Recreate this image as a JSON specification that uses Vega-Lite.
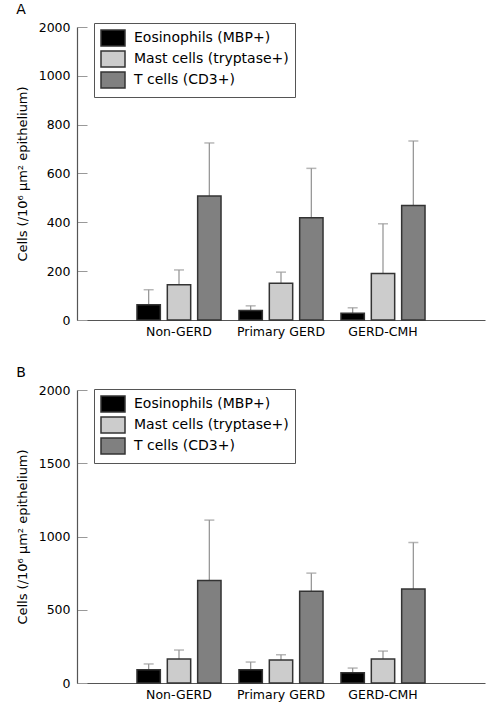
{
  "$schema": "https://vega.github.io/schema/vega-lite/v6.json",
  "padding": {"left": 16, "top": 3, "right": 1, "bottom": 2},
  "spacing": 28,
  "data": {"values": [
    {"panel": "A", "group": "Non-GERD", "cell": "Eosinophils (MBP+)", "value": 62, "upper": 124},
    {"panel": "A", "group": "Non-GERD", "cell": "Mast cells (tryptase+)", "value": 144, "upper": 205},
    {"panel": "A", "group": "Non-GERD", "cell": "T cells (CD3+)", "value": 508, "upper": 725},
    {"panel": "A", "group": "Primary GERD", "cell": "Eosinophils (MBP+)", "value": 39, "upper": 58},
    {"panel": "A", "group": "Primary GERD", "cell": "Mast cells (tryptase+)", "value": 151, "upper": 196},
    {"panel": "A", "group": "Primary GERD", "cell": "T cells (CD3+)", "value": 419, "upper": 621},
    {"panel": "A", "group": "GERD-CMH", "cell": "Eosinophils (MBP+)", "value": 28, "upper": 50},
    {"panel": "A", "group": "GERD-CMH", "cell": "Mast cells (tryptase+)", "value": 190, "upper": 394},
    {"panel": "A", "group": "GERD-CMH", "cell": "T cells (CD3+)", "value": 469, "upper": 733},
    {"panel": "B", "group": "Non-GERD", "cell": "Eosinophils (MBP+)", "value": 91, "upper": 130},
    {"panel": "B", "group": "Non-GERD", "cell": "Mast cells (tryptase+)", "value": 164, "upper": 225},
    {"panel": "B", "group": "Non-GERD", "cell": "T cells (CD3+)", "value": 700, "upper": 1112},
    {"panel": "B", "group": "Primary GERD", "cell": "Eosinophils (MBP+)", "value": 91, "upper": 143},
    {"panel": "B", "group": "Primary GERD", "cell": "Mast cells (tryptase+)", "value": 157, "upper": 193},
    {"panel": "B", "group": "Primary GERD", "cell": "T cells (CD3+)", "value": 627, "upper": 750},
    {"panel": "B", "group": "GERD-CMH", "cell": "Eosinophils (MBP+)", "value": 70, "upper": 102},
    {"panel": "B", "group": "GERD-CMH", "cell": "Mast cells (tryptase+)", "value": 164, "upper": 218},
    {"panel": "B", "group": "GERD-CMH", "cell": "T cells (CD3+)", "value": 641, "upper": 959}
  ]},
  "vconcat": [
    {
      "title": {"text": "A", "anchor": "start", "fontSize": 14, "fontWeight": "normal", "font": "DejaVu Sans", "offset": 4, "color": "#000"},
      "width": 408, "height": 293,
      "transform": [{"filter": "datum.panel == 'A'"}],
      "encoding": {
        "x": {"field": "group", "type": "nominal", "sort": ["Non-GERD", "Primary GERD", "GERD-CMH"],
              "scale": {"paddingInner": 0.176, "paddingOuter": 0.588},
              "axis": {"title": null, "labelAngle": 0, "ticks": false, "labelPadding": 5}},
        "xOffset": {"field": "cell", "type": "nominal", "sort": ["Eosinophils (MBP+)", "Mast cells (tryptase+)", "T cells (CD3+)"],
              "scale": {"paddingInner": 0.23, "paddingOuter": 0}}
      },
      "layer": [
        {"mark": {"type": "rule", "color": "#999", "strokeWidth": 1.3},
         "encoding": {"y": {"field": "value", "type": "quantitative"}, "y2": {"field": "upper"}}},
        {"mark": {"type": "tick", "color": "#999", "size": 10, "thickness": 1.5},
         "encoding": {"y": {"field": "upper", "type": "quantitative"}}},
        {"mark": {"type": "bar", "stroke": "#333", "strokeWidth": 1.5},
         "encoding": {
           "y": {"field": "value", "type": "quantitative",
                 "scale": {"domain": [0, 1000, 2000], "range": [293, 48.8, 0], "nice": false, "zero": false},
                 "axis": {"values": [0, 200, 400, 600, 800, 1000, 2000], "format": "d", "title": "Cells (/10⁶ µm² epithelium)", "tickSize": -10, "labelPadding": 17, "titlePadding": 9}},
           "color": {"field": "cell", "type": "nominal", "sort": ["Eosinophils (MBP+)", "Mast cells (tryptase+)", "T cells (CD3+)"],
                     "scale": {"domain": ["Eosinophils (MBP+)", "Mast cells (tryptase+)", "T cells (CD3+)"], "range": ["#000000", "#cccccc", "#808080"]},
                     "legend": {"orient": "none", "legendX": 17, "legendY": -4, "title": null}}
         }}
      ]
    },
    {
      "title": {"text": "B", "anchor": "start", "fontSize": 14, "fontWeight": "normal", "font": "DejaVu Sans", "offset": 4, "color": "#000"},
      "width": 408, "height": 293,
      "transform": [{"filter": "datum.panel == 'B'"}],
      "encoding": {
        "x": {"field": "group", "type": "nominal", "sort": ["Non-GERD", "Primary GERD", "GERD-CMH"],
              "scale": {"paddingInner": 0.176, "paddingOuter": 0.588},
              "axis": {"title": null, "labelAngle": 0, "ticks": false, "labelPadding": 5}},
        "xOffset": {"field": "cell", "type": "nominal", "sort": ["Eosinophils (MBP+)", "Mast cells (tryptase+)", "T cells (CD3+)"],
              "scale": {"paddingInner": 0.23, "paddingOuter": 0}}
      },
      "layer": [
        {"mark": {"type": "rule", "color": "#999", "strokeWidth": 1.3},
         "encoding": {"y": {"field": "value", "type": "quantitative"}, "y2": {"field": "upper"}}},
        {"mark": {"type": "tick", "color": "#999", "size": 10, "thickness": 1.5},
         "encoding": {"y": {"field": "upper", "type": "quantitative"}}},
        {"mark": {"type": "bar", "stroke": "#333", "strokeWidth": 1.5},
         "encoding": {
           "y": {"field": "value", "type": "quantitative",
                 "scale": {"domain": [0, 2000], "nice": false},
                 "axis": {"values": [0, 500, 1000, 1500, 2000], "format": "d", "title": "Cells (/10⁶ µm² epithelium)", "tickSize": -10, "labelPadding": 17, "titlePadding": 9}},
           "color": {"field": "cell", "type": "nominal", "sort": ["Eosinophils (MBP+)", "Mast cells (tryptase+)", "T cells (CD3+)"],
                     "scale": {"domain": ["Eosinophils (MBP+)", "Mast cells (tryptase+)", "T cells (CD3+)"], "range": ["#000000", "#cccccc", "#808080"]},
                     "legend": {"orient": "none", "legendX": 17, "legendY": -1, "title": null}}
         }}
      ]
    }
  ],
  "resolve": {"scale": {"y": "independent", "color": "independent"}, "legend": {"color": "independent"}},
  "config": {
    "view": {"stroke": null},
    "axis": {"labelFont": "DejaVu Sans", "labelFontSize": 12.5, "titleFont": "DejaVu Sans", "titleFontSize": 13, "titleFontWeight": "normal",
             "labelColor": "#000", "titleColor": "#000", "domainColor": "#555", "tickColor": "#999", "grid": false, "domainWidth": 1.2},
    "legend": {"symbolType": "M-1,-1L2,-1L2,1L-1,1Z", "symbolSize": 256, "symbolStrokeColor": "#333", "symbolStrokeWidth": 1.5,
               "symbolOpacity": 1, "labelFont": "DejaVu Sans", "labelFontSize": 14, "labelColor": "#000", "strokeColor": "#555",
               "padding": 6, "rowPadding": -1, "labelOffset": 16, "fillColor": "#fff"}
  }
}
